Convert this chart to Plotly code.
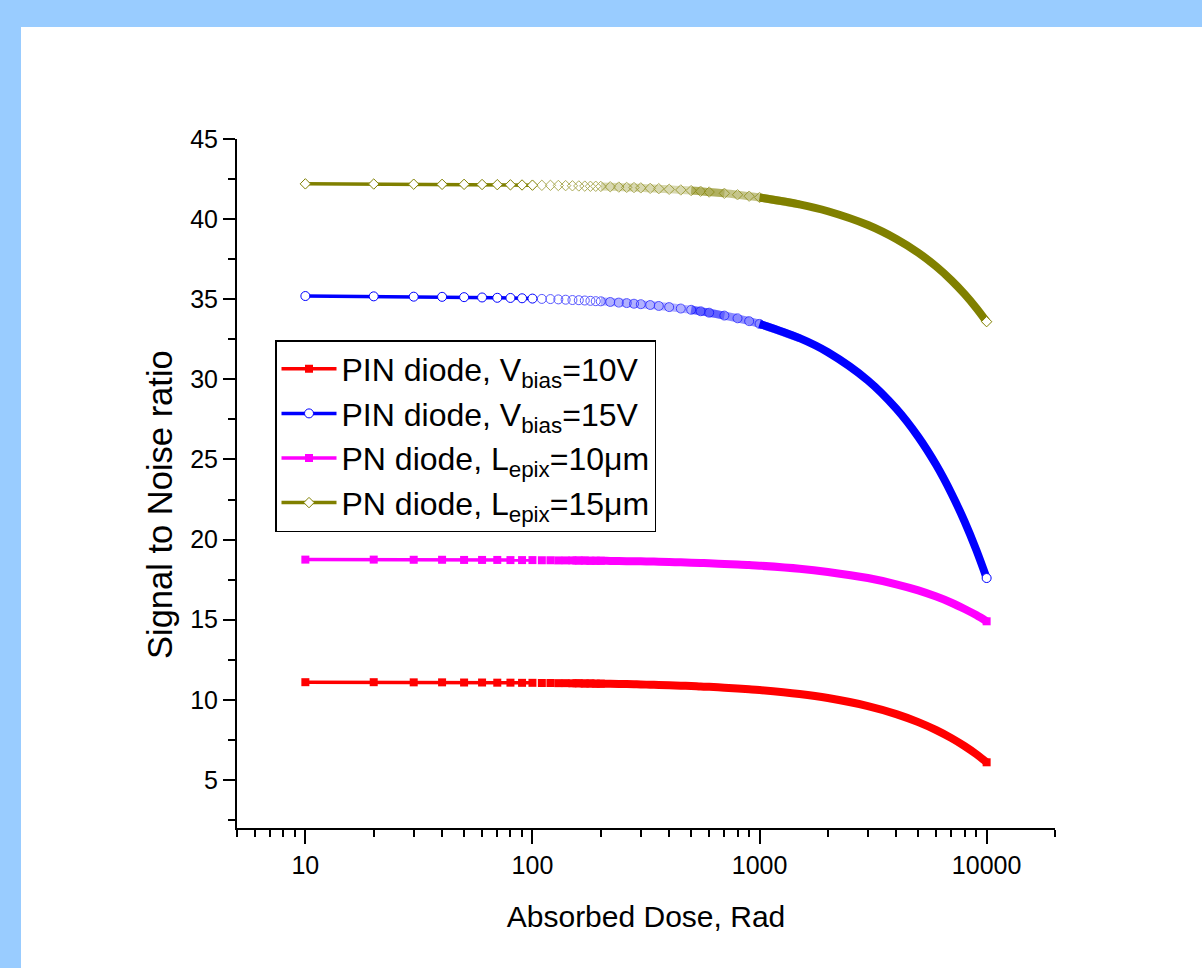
import numpy as np
import plotly.graph_objects as go

# Absorbed dose (Rad) at which each curve is sampled
dose = [10, 20, 30, 40, 50, 60, 70, 80, 90, 100,
        110, 120, 130, 140, 150, 160, 170, 180, 190, 200,
        220, 240, 260, 280, 300, 330, 360, 400, 450, 500,
        550, 600, 700, 800, 900, 1000, 1500, 2000, 3000, 4000,
        5000, 6000, 7000, 8000, 9000, 10000]

# Signal to noise ratio for each detector
snr_pin_10v = [11.10, 11.10, 11.09, 11.09, 11.08, 11.08, 11.07, 11.07, 11.06, 11.06,
               11.05, 11.05, 11.04, 11.04, 11.03, 11.03, 11.02, 11.02, 11.01, 11.01,
               11.00, 10.99, 10.98, 10.97, 10.96, 10.94, 10.93, 10.91, 10.88, 10.86,
               10.83, 10.81, 10.76, 10.71, 10.66, 10.61, 10.36, 10.11, 9.61, 9.11,
               8.61, 8.11, 7.61, 7.11, 6.61, 6.10]
snr_pin_15v = [35.20, 35.18, 35.16, 35.15, 35.13, 35.11, 35.09, 35.08, 35.06, 35.04,
               35.02, 35.01, 34.99, 34.97, 34.95, 34.94, 34.92, 34.90, 34.88, 34.87,
               34.83, 34.79, 34.76, 34.72, 34.69, 34.64, 34.58, 34.51, 34.42, 34.34,
               34.25, 34.16, 33.98, 33.81, 33.63, 33.46, 32.57, 31.69, 29.93, 28.17,
               26.41, 24.65, 22.88, 21.12, 19.36, 17.60]
snr_pn_10um = [18.75, 18.75, 18.74, 18.74, 18.73, 18.73, 18.73, 18.72, 18.72, 18.72,
               18.71, 18.71, 18.70, 18.70, 18.70, 18.69, 18.69, 18.68, 18.68, 18.68,
               18.67, 18.66, 18.65, 18.65, 18.64, 18.63, 18.62, 18.60, 18.58, 18.56,
               18.54, 18.52, 18.48, 18.45, 18.41, 18.37, 18.18, 17.98, 17.60, 17.21,
               16.83, 16.44, 16.06, 15.67, 15.29, 14.90]
snr_pn_15um = [42.20, 42.19, 42.18, 42.17, 42.17, 42.16, 42.15, 42.14, 42.13, 42.12,
               42.11, 42.11, 42.10, 42.09, 42.08, 42.07, 42.06, 42.05, 42.05, 42.04,
               42.02, 42.00, 41.98, 41.97, 41.95, 41.92, 41.90, 41.86, 41.82, 41.78,
               41.74, 41.69, 41.61, 41.52, 41.43, 41.35, 40.92, 40.49, 39.63, 38.76,
               37.90, 37.04, 36.18, 35.32, 34.46, 33.60]

series_names = ["PIN diode, V<sub>bias</sub>=10V",
                "PIN diode, V<sub>bias</sub>=15V",
                "PN diode, L<sub>epix</sub>=10\u03bcm",
                "PN diode, L<sub>epix</sub>=15\u03bcm"]
x_ticks = [10, 100, 1000, 10000]

FONT = "Liberation Sans, Arial, sans-serif"
d = np.array(dose)


def pick(y, lo, hi):
    m = (d >= lo) & (d <= hi)
    return d[m], np.array(y)[m]


fig = go.Figure()

# (values, colour, marker symbol, marker size, hollow marker)
styles = [
    (snr_pin_10v, "#FF0000", "square", 8, False),
    (snr_pin_15v, "#0000FF", "circle", 9, True),
    (snr_pn_10um, "#FF00FF", "square", 8, False),
    (snr_pn_15um, "#808000", "diamond", 8, True),
]

for (y, color, symbol, msize, hollow), name in zip(styles, series_names):
    if hollow:
        # closely packed open markers fade into a solid band at high dose
        for lo, hi, op in [(200, 700, 0.3), (500, 1500, 0.45)]:
            xb, yb = pick(y, lo, hi)
            fig.add_trace(go.Scatter(x=xb, y=yb, mode="lines", showlegend=False,
                                     line=dict(color=color, width=8, shape="spline"),
                                     opacity=op, hoverinfo="skip"))
        xb, yb = pick(y, 1000, 10000)
        fig.add_trace(go.Scatter(x=xb, y=yb, mode="lines", showlegend=False,
                                 line=dict(color=color, width=8, shape="spline"),
                                 hoverinfo="skip"))
        xm, ym = pick(y, 110, 1000)
        fig.add_trace(go.Scatter(x=xm, y=ym, mode="markers", showlegend=False,
                                 marker=dict(symbol=symbol + "-open", size=msize, color=color,
                                             line=dict(width=1, color=color)),
                                 opacity=0.65, hoverinfo="skip"))
    else:
        xb, yb = pick(y, 150, 10000)
        fig.add_trace(go.Scatter(x=xb, y=yb, mode="lines", showlegend=False,
                                 line=dict(color=color, width=msize, shape="spline"),
                                 hoverinfo="skip"))
        xm, ym = pick(y, 110, 200)
        fig.add_trace(go.Scatter(x=xm, y=ym, mode="markers", showlegend=False,
                                 marker=dict(symbol=symbol, size=msize, color=color,
                                             line=dict(width=0)),
                                 hoverinfo="skip"))

    # low-dose part with connecting line; this trace carries the legend entry
    xs, ys = pick(y, 10, 100)
    if hollow:
        mk = dict(symbol=symbol, size=msize, color="white", line=dict(width=1, color=color))
    else:
        mk = dict(symbol=symbol, size=msize, color=color, line=dict(width=0))
    fig.add_trace(go.Scatter(x=xs, y=ys, mode="lines+markers", name=name,
                             line=dict(color=color, width=3.5), marker=mk))

    # last point
    xe, ye = pick(y, 10000, 10000)
    fig.add_trace(go.Scatter(x=xe, y=ye, mode="markers", showlegend=False,
                             marker=mk, hoverinfo="skip"))

W, H = 1202, 968
L, R, T, B = 237, 147, 139, 140
pw, ph = W - L - R, H - T - B

fig.update_layout(
    width=W, height=H,
    margin=dict(l=L, r=R, t=T, b=B, pad=0),
    paper_bgcolor="#99CCFF",
    plot_bgcolor="white",
    font=dict(family=FONT, color="black"),
    shapes=[dict(type="rect", xref="paper", yref="paper", layer="below",
                 x0=(21 - L) / pw, x1=(W + 10 - L) / pw,
                 y0=(T + ph - (H + 10)) / ph, y1=(T + ph - 27) / ph,
                 fillcolor="white", line=dict(width=0))],
    legend=dict(x=(275 - L) / pw, y=(T + ph - 340) / ph, xanchor="left", yanchor="top",
                bgcolor="white", bordercolor="black", borderwidth=1.5,
                font=dict(family=FONT, size=32, color="black"),
                tracegroupgap=0, itemsizing="trace", itemwidth=55),
    annotations=[dict(text="Signal to Noise ratio", textangle=-90,
                      xref="paper", yref="paper",
                      x=(160 - L) / pw, y=(T + ph - 505) / ph,
                      xanchor="center", yanchor="middle", showarrow=False,
                      font=dict(family=FONT, size=34.5, color="black"))],
    showlegend=True,
)

fig.update_xaxes(
    type="log", range=[np.log10(5), np.log10(20000)],
    showgrid=False, zeroline=False,
    showline=True, linecolor="black", linewidth=2,
    ticks="outside", ticklen=14, tickwidth=2, tickcolor="black",
    tickvals=x_ticks, ticktext=[str(v) for v in x_ticks],
    tickfont=dict(family=FONT, size=25),
    minor=dict(ticks="outside", ticklen=7, tickwidth=2, tickcolor="black",
               tickvals=[m * 10 ** e for e in range(0, 5) for m in range(2, 10)
                         if 5 <= m * 10 ** e <= 20000]),
    title=dict(text="Absorbed Dose, Rad", font=dict(family=FONT, size=30), standoff=28),
)

fig.update_yaxes(
    range=[2, 45],
    showgrid=False, zeroline=False,
    showline=True, linecolor="black", linewidth=2,
    ticks="outside", ticklen=12, tickwidth=2, tickcolor="black",
    tick0=5, dtick=5,
    tickfont=dict(family=FONT, size=25),
    minor=dict(ticks="outside", ticklen=7, tickwidth=2, tickcolor="black",
               tick0=2.5, dtick=5),
)

fig.write_html("out.html")
